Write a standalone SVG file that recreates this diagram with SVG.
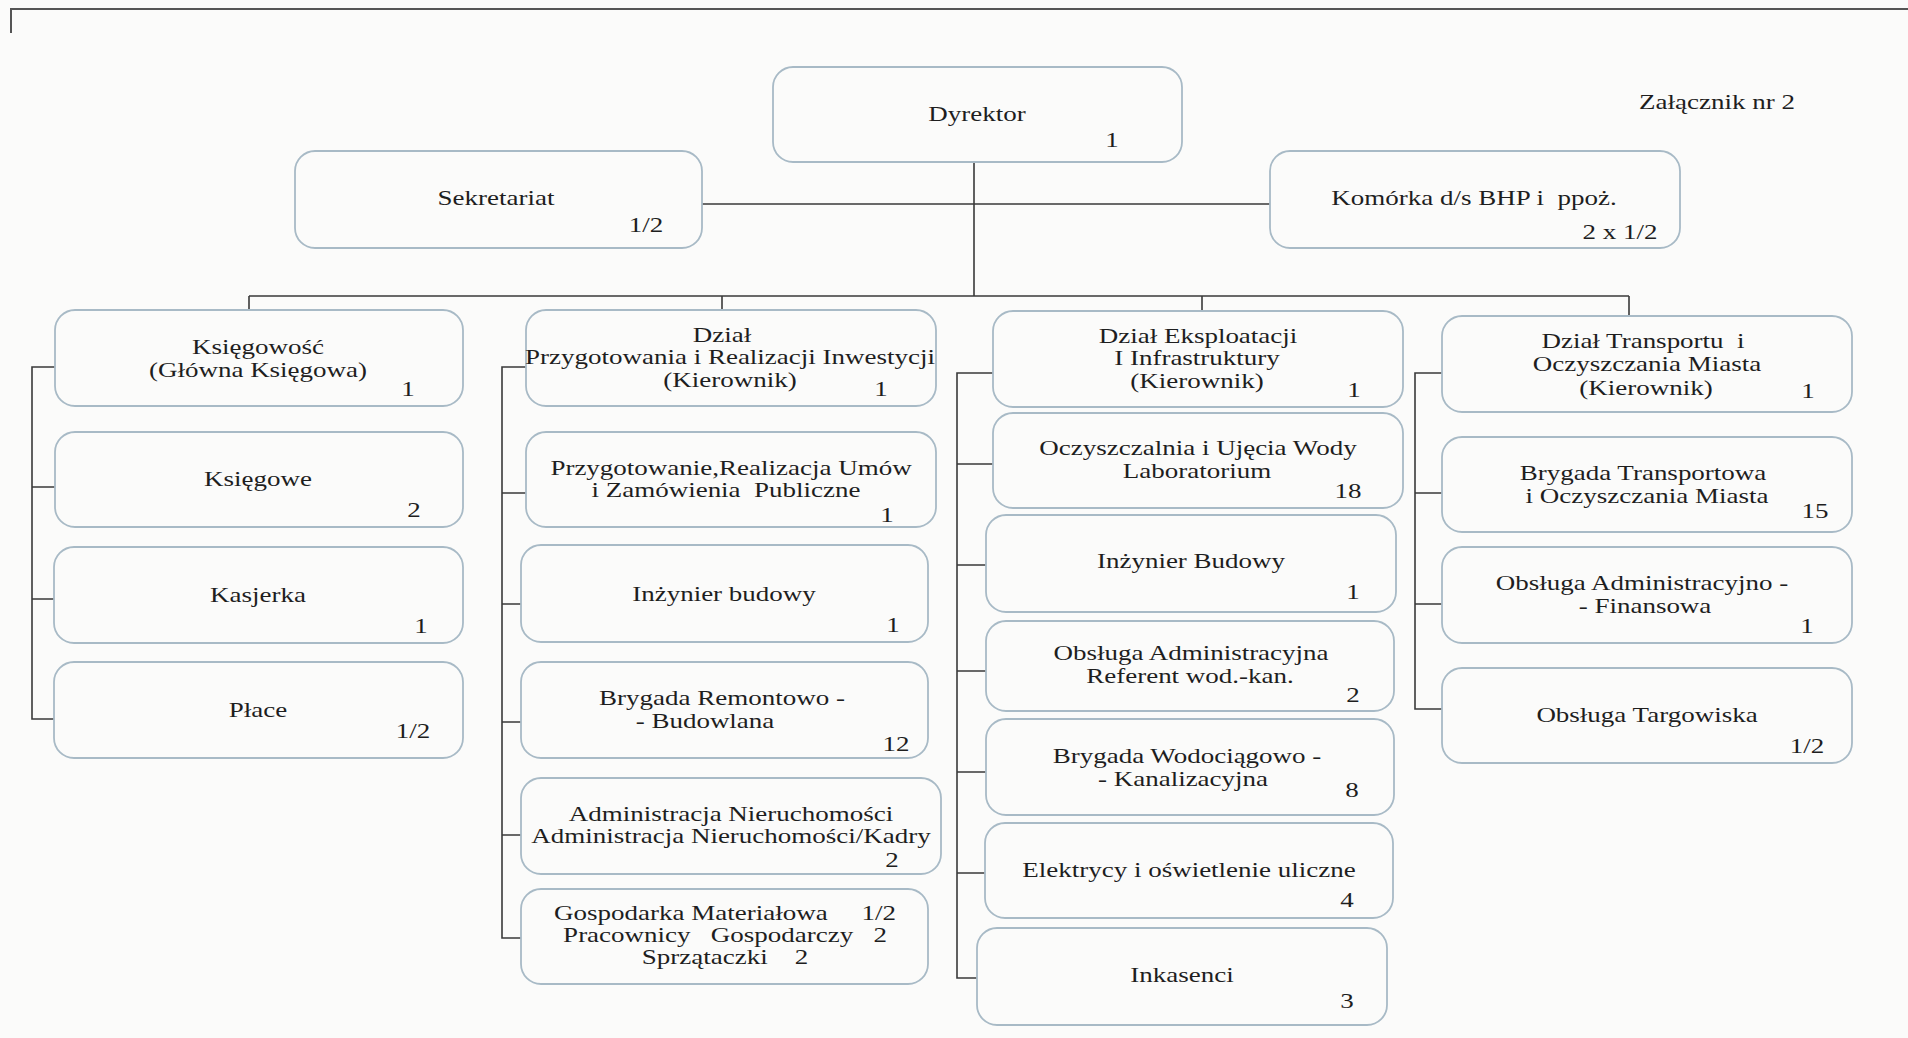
<svg xmlns="http://www.w3.org/2000/svg" width="1908" height="1038" viewBox="0 0 1908 1038">
<style>
.bg{fill:#fbfbfa}
.box{fill:none;stroke:#a8bac6;stroke-width:1.8}
.ln{fill:none;stroke:#3a3a3a;stroke-width:1.6}
.frame{fill:none;stroke:#555;stroke-width:2}
text{font-family:"Liberation Serif","Times New Roman",serif;font-size:20px;fill:#1e1e1e;text-anchor:middle}
</style>
<rect class="bg" x="0" y="0" width="1908" height="1038"/>
<path class="frame" d="M11 33 V9 H1908"/>
<text transform="translate(1717,109) scale(1.35,1)">Załącznik nr 2</text>

<g id="connectors">
<path class="ln" d="M974 162 V296 M702 204 H1270 M249 296 H1629 M249 296 V310 M722 296 V310 M1202 296 V311 M1629 296 V316"/>
<path class="ln" d="M55 367 H32 V719 H54 M32 487 H55 M32 599 H54"/>
<path class="ln" d="M526 367 H502 V938 H521 M502 493 H526 M502 604 H521 M502 722 H521 M502 835 H521"/>
<path class="ln" d="M993 373 H957 V978 H977 M957 464 H993 M957 565 H986 M957 671 H986 M957 772 H986 M957 873 H985"/>
<path class="ln" d="M1442 373 H1415 V709 H1442 M1415 493 H1442 M1415 604 H1442"/>
</g>

<g id="dyrektor">
<rect class="box" x="773" y="67" width="409" height="95" rx="20"/>
<text transform="translate(977,121) scale(1.35,1)">Dyrektor</text>
<text transform="translate(1112,147) scale(1.35,1)">1</text>
</g>
<g id="sekretariat">
<rect class="box" x="295" y="151" width="407" height="97" rx="20"/>
<text transform="translate(496,205) scale(1.35,1)">Sekretariat</text>
<text transform="translate(646,232) scale(1.35,1)">1/2</text>
</g>
<g id="komorka-bhp">
<rect class="box" x="1270" y="151" width="410" height="97" rx="20"/>
<text xml:space="preserve" transform="translate(1474,205) scale(1.35,1)">Komórka d/s BHP i  ppoż.</text>
<text transform="translate(1620,239) scale(1.35,1)">2 x 1/2</text>
</g>

<g id="ksiegowosc">
<rect class="box" x="55" y="310" width="408" height="96" rx="20"/>
<text transform="translate(258,354) scale(1.35,1)">Księgowość</text>
<text transform="translate(258,377) scale(1.35,1)">(Główna Księgowa)</text>
<text transform="translate(408,396) scale(1.35,1)">1</text>
</g>
<g id="ksiegowe">
<rect class="box" x="55" y="432" width="408" height="95" rx="20"/>
<text transform="translate(258,486) scale(1.35,1)">Księgowe</text>
<text transform="translate(414,517) scale(1.35,1)">2</text>
</g>
<g id="kasjerka">
<rect class="box" x="54" y="547" width="409" height="96" rx="20"/>
<text transform="translate(258,602) scale(1.35,1)">Kasjerka</text>
<text transform="translate(421,633) scale(1.35,1)">1</text>
</g>
<g id="place">
<rect class="box" x="54" y="662" width="409" height="96" rx="20"/>
<text transform="translate(258,717) scale(1.35,1)">Płace</text>
<text transform="translate(413,738) scale(1.35,1)">1/2</text>
</g>

<g id="dzial-przygotowania">
<rect class="box" x="526" y="310" width="410" height="96" rx="20"/>
<text transform="translate(722,342) scale(1.35,1)">Dział</text>
<text transform="translate(730,364) scale(1.35,1)">Przygotowania i Realizacji Inwestycji</text>
<text transform="translate(730,387) scale(1.35,1)">(Kierownik)</text>
<text transform="translate(881,396) scale(1.35,1)">1</text>
</g>
<g id="przygotowanie-umow">
<rect class="box" x="526" y="432" width="410" height="95" rx="20"/>
<text transform="translate(731,475) scale(1.35,1)">Przygotowanie,Realizacja Umów</text>
<text xml:space="preserve" transform="translate(726,497) scale(1.35,1)">i Zamówienia  Publiczne</text>
<text transform="translate(887,522) scale(1.35,1)">1</text>
</g>
<g id="inzynier-budowy-1">
<rect class="box" x="521" y="545" width="407" height="97" rx="20"/>
<text transform="translate(724,601) scale(1.35,1)">Inżynier budowy</text>
<text transform="translate(893,632) scale(1.35,1)">1</text>
</g>
<g id="brygada-remontowo">
<rect class="box" x="521" y="662" width="407" height="96" rx="20"/>
<text transform="translate(722,705) scale(1.35,1)">Brygada Remontowo -</text>
<text transform="translate(705,728) scale(1.35,1)">- Budowlana</text>
<text transform="translate(896,751) scale(1.35,1)">12</text>
</g>
<g id="administracja">
<rect class="box" x="521" y="778" width="420" height="96" rx="20"/>
<text transform="translate(731,821) scale(1.35,1)">Administracja Nieruchomości</text>
<text transform="translate(731,843) scale(1.35,1)">Administracja Nieruchomości/Kadry</text>
<text transform="translate(892,867) scale(1.35,1)">2</text>
</g>
<g id="gospodarka">
<rect class="box" x="521" y="889" width="407" height="95" rx="20"/>
<text xml:space="preserve" transform="translate(725,920) scale(1.35,1)">Gospodarka Materiałowa     1/2</text>
<text xml:space="preserve" transform="translate(725,942) scale(1.35,1)">Pracownicy   Gospodarczy   2</text>
<text xml:space="preserve" transform="translate(725,964) scale(1.35,1)">Sprzątaczki    2</text>
</g>

<g id="dzial-eksploatacji">
<rect class="box" x="993" y="311" width="410" height="96" rx="20"/>
<text transform="translate(1198,343) scale(1.35,1)">Dział Eksploatacji</text>
<text transform="translate(1197,365) scale(1.35,1)">I Infrastruktury</text>
<text transform="translate(1197,388) scale(1.35,1)">(Kierownik)</text>
<text transform="translate(1354,397) scale(1.35,1)">1</text>
</g>
<g id="oczyszczalnia">
<rect class="box" x="993" y="413" width="410" height="95" rx="20"/>
<text transform="translate(1198,455) scale(1.35,1)">Oczyszczalnia i Ujęcia Wody</text>
<text transform="translate(1197,478) scale(1.35,1)">Laboratorium</text>
<text transform="translate(1348,498) scale(1.35,1)">18</text>
</g>
<g id="inzynier-budowy-2">
<rect class="box" x="986" y="515" width="410" height="97" rx="20"/>
<text transform="translate(1191,568) scale(1.35,1)">Inżynier Budowy</text>
<text transform="translate(1353,599) scale(1.35,1)">1</text>
</g>
<g id="obsluga-administracyjna">
<rect class="box" x="986" y="621" width="408" height="90" rx="20"/>
<text transform="translate(1191,660) scale(1.35,1)">Obsługa Administracyjna</text>
<text transform="translate(1190,683) scale(1.35,1)">Referent wod.-kan.</text>
<text transform="translate(1353,702) scale(1.35,1)">2</text>
</g>
<g id="brygada-wodociagowo">
<rect class="box" x="986" y="719" width="408" height="96" rx="20"/>
<text transform="translate(1187,763) scale(1.35,1)">Brygada Wodociągowo -</text>
<text transform="translate(1183,786) scale(1.35,1)">- Kanalizacyjna</text>
<text transform="translate(1352,797) scale(1.35,1)">8</text>
</g>
<g id="elektrycy">
<rect class="box" x="985" y="823" width="408" height="95" rx="20"/>
<text transform="translate(1189,877) scale(1.35,1)">Elektrycy i oświetlenie uliczne</text>
<text transform="translate(1347,907) scale(1.35,1)">4</text>
</g>
<g id="inkasenci">
<rect class="box" x="977" y="928" width="410" height="97" rx="20"/>
<text transform="translate(1182,982) scale(1.35,1)">Inkasenci</text>
<text transform="translate(1347,1008) scale(1.35,1)">3</text>
</g>

<g id="dzial-transportu">
<rect class="box" x="1442" y="316" width="410" height="96" rx="20"/>
<text xml:space="preserve" transform="translate(1643,348) scale(1.35,1)">Dział Transportu  i</text>
<text transform="translate(1647,371) scale(1.35,1)">Oczyszczania Miasta</text>
<text transform="translate(1646,395) scale(1.35,1)">(Kierownik)</text>
<text transform="translate(1808,398) scale(1.35,1)">1</text>
</g>
<g id="brygada-transportowa">
<rect class="box" x="1442" y="437" width="410" height="95" rx="20"/>
<text transform="translate(1643,480) scale(1.35,1)">Brygada Transportowa</text>
<text transform="translate(1647,503) scale(1.35,1)">i Oczyszczania Miasta</text>
<text transform="translate(1815,518) scale(1.35,1)">15</text>
</g>
<g id="obsluga-finansowa">
<rect class="box" x="1442" y="547" width="410" height="96" rx="20"/>
<text transform="translate(1642,590) scale(1.35,1)">Obsługa Administracyjno -</text>
<text transform="translate(1645,613) scale(1.35,1)">- Finansowa</text>
<text transform="translate(1807,633) scale(1.35,1)">1</text>
</g>
<g id="obsluga-targowiska">
<rect class="box" x="1442" y="668" width="410" height="95" rx="20"/>
<text transform="translate(1647,722) scale(1.35,1)">Obsługa Targowiska</text>
<text transform="translate(1807,753) scale(1.35,1)">1/2</text>
</g>
</svg>
